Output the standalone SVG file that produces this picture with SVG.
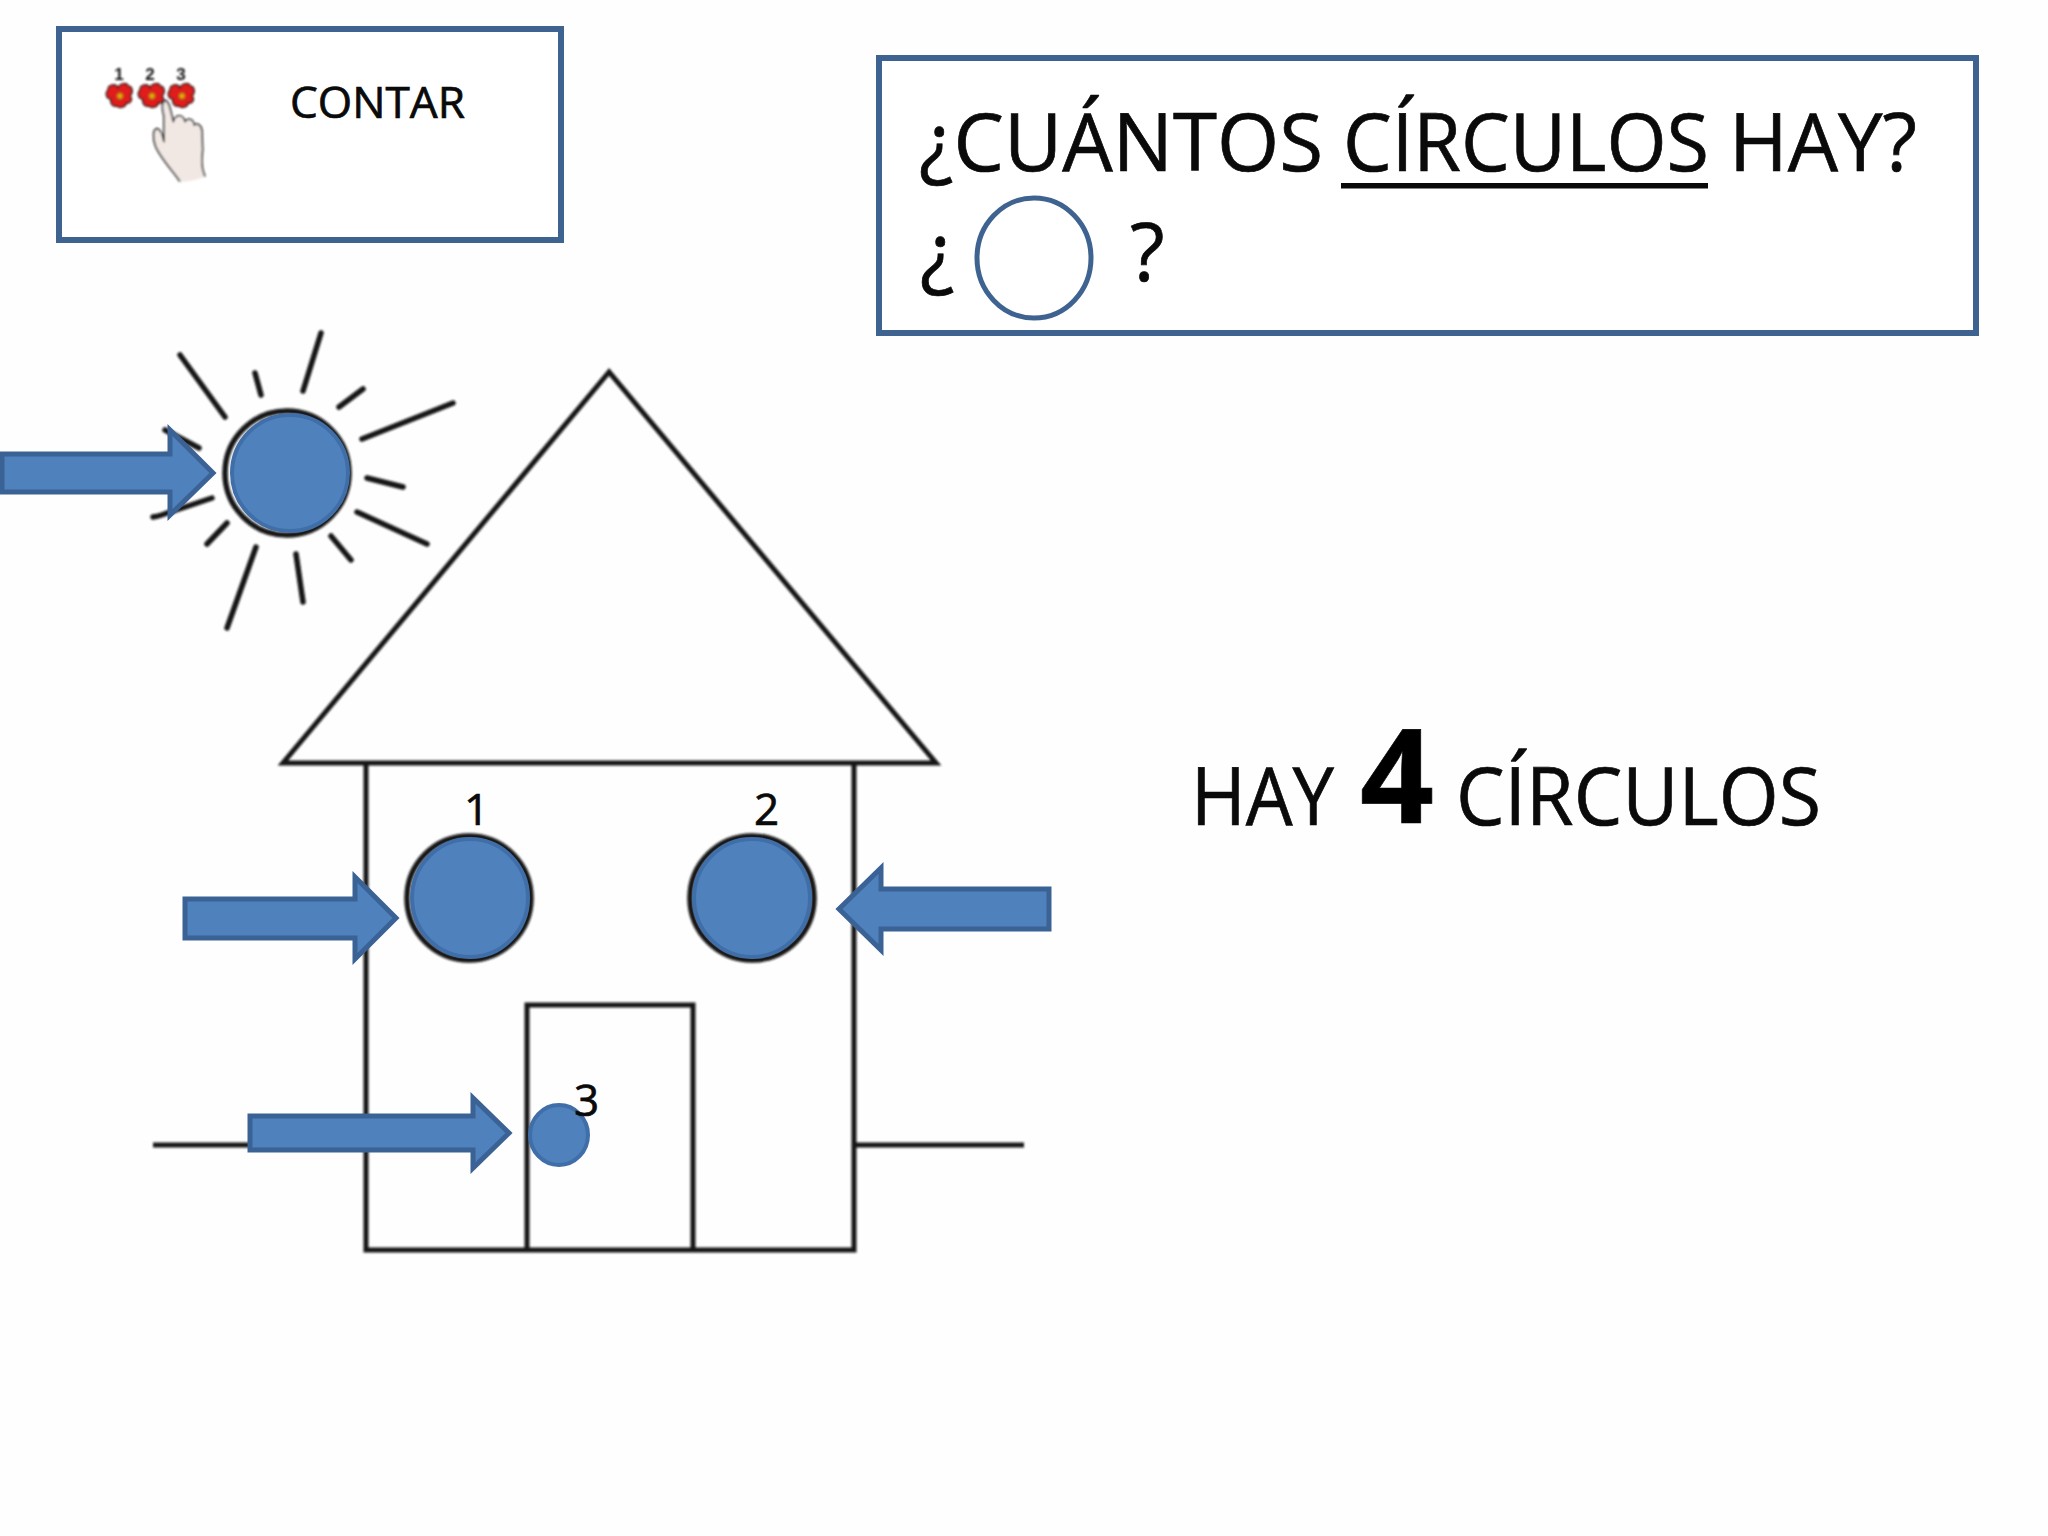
<svg xmlns="http://www.w3.org/2000/svg" width="2048" height="1536" viewBox="0 0 2048 1536">
<style>
.t{font-family:"Open Sans","Noto Sans","Liberation Sans",sans-serif;fill:#0a0a0a;stroke:#0a0a0a;stroke-width:.7}
.box{fill:#fff;stroke:#3f6391;stroke-width:6}
.arrow{fill:#4f81bd;stroke:#3a6295;stroke-width:5;stroke-linejoin:miter}
.blue{fill:#4f81bd;stroke:#3f6ea8;stroke-width:4}
.ring{fill:none;stroke:#141414;stroke-width:5.5}
.line{fill:none;stroke:#141414;stroke-width:5}
.ray{fill:none;stroke:#141414;stroke-width:5.5;stroke-linecap:round}
.n{font-family:"Liberation Sans",sans-serif;font-weight:700;font-size:17px;fill:#111;text-anchor:middle}
</style>
<defs>
<filter id="soft" x="-5%" y="-5%" width="110%" height="110%"><feGaussianBlur stdDeviation="0.8"/></filter>
<g id="flower">
<path d="M-2-8C-4-13-12-12-12-6C-15-3-14 3-9 3C-10 8-7 11-3 10C0 13 6 11 6 7C11 8 13 3 10 0C14-4 12-10 8-10C7-14 0-13-2-8Z" fill="#e01b1b" stroke="#2a1a1a" stroke-width="1.5" stroke-linejoin="round"/>
<circle r="3.2" fill="#f0a010" stroke="#8a5a10" stroke-width="1"/>
</g>
</defs>
<rect width="2048" height="1536" fill="#fefefe"/>

<g id="contar-box">
<rect class="box" x="59" y="29" width="502" height="211"/>
<g id="contar-icon" filter="url(#soft)">
<text class="n" x="119" y="80">1</text>
<text class="n" x="150" y="80">2</text>
<text class="n" x="181" y="80">3</text>
<use href="#flower" x="120" y="96"/>
<use href="#flower" x="152" y="96"/>
<use href="#flower" x="182" y="96"/>
<path transform="translate(90 50) scale(.3333)" d="M270 395C255 370 215 330 197 290C188 265 188 240 200 236C212 236 218 255 222 275L222 200C218 180 212 160 225 151C237 152 240 175 250 215C255 195 278 188 285 215C295 200 312 210 312 225C325 218 336 228 336 245L338 300C335 325 332 350 345 380C320 390 295 395 270 395Z" fill="#f1e8e4" stroke="none"/>
<path transform="translate(90 50) scale(.3333)" d="M270 395C255 370 215 330 197 290C188 265 188 240 200 236C212 236 218 255 222 275L222 200C218 180 212 160 225 151C237 152 240 175 250 215C255 195 278 188 285 215C295 200 312 210 312 225C325 218 336 228 336 245L338 300C335 325 332 350 345 380" fill="none" stroke="#262626" stroke-width="5" stroke-linejoin="round"/>
</g>
<text class="t" x="290" y="118" font-size="44" textLength="175" lengthAdjust="spacingAndGlyphs">CONTAR</text>
</g>

<g id="question-box">
<rect class="box" x="879" y="58" width="1097" height="275"/>
<text class="t" x="919" y="171" font-size="80" textLength="404" lengthAdjust="spacingAndGlyphs">¿CUÁNTOS</text>
<text class="t" x="1343" y="171" font-size="80" textLength="366" lengthAdjust="spacingAndGlyphs">CÍRCULOS</text>
<rect x="1341" y="183" width="367" height="5.5" fill="#0a0a0a"/>
<text class="t" x="1729" y="171" font-size="80" textLength="188" lengthAdjust="spacingAndGlyphs">HAY?</text>
<text class="t" x="920" y="281" font-size="80">¿</text>
<ellipse id="empty-circle" cx="1034" cy="258" rx="57" ry="60" fill="none" stroke="#3f6391" stroke-width="5"/>
<text class="t" x="1130" y="281" font-size="80">?</text>
</g>

<g id="scene" filter="url(#soft)">
<g id="house">
<path class="line" d="M609 372L283 763H936Z"/>
<path class="line" d="M366 763V1250H854V763"/>
<path class="line" d="M527 1250V1005H693V1250"/>
<path class="line" d="M153 1145H366M854 1145H1024"/>
</g>
<g id="sun">
<path class="ray" d="M180 355L225 417M255 373L261 395M321 333L303 391M363 389L339 407M453 403L362 439M367 478L403 487M357 512L427 544M331 536L351 560M296 554L303 602M256 547L227 628M227 523L207 544M212 498L170 512Q160 516 153 517M165 430L199 448"/>
<circle class="ring" cx="287" cy="473" r="62"/>
</g>
<ellipse class="ring" cx="469" cy="898" rx="62" ry="62"/>
<ellipse class="ring" cx="752" cy="898" rx="62" ry="62"/>
</g>

<g id="circles">
<ellipse id="circle-sun" class="blue" cx="290" cy="473" rx="58" ry="58"/>
<ellipse id="circle-1" class="blue" cx="470" cy="898" rx="58" ry="59"/>
<ellipse id="circle-2" class="blue" cx="752" cy="898" rx="58" ry="59"/>
<ellipse id="circle-3" class="blue" cx="559" cy="1135" rx="29" ry="30" stroke-width="2"/>
</g>

<g id="connectors">
<path class="arrow" d="M2 454H170V430L213 473L170 515V492H2Z"/>
<path class="arrow" d="M185 899H355V877L396 918L355 959V938H185Z"/>
<path class="arrow" d="M1049 889H881V868L839 909L881 950V929H1049Z"/>
<path class="arrow" d="M250 1116H473V1098L509 1133L473 1168V1150H250Z"/>
</g>

<g id="labels">
<text class="t" x="464" y="825" font-size="44">1</text>
<text class="t" x="754" y="825" font-size="44">2</text>
<text class="t" x="574" y="1116" font-size="44">3</text>
<text class="t" x="1191" y="825" font-size="80" textLength="143" lengthAdjust="spacingAndGlyphs">HAY</text>
<text class="t" x="1360" y="823" font-size="131" font-weight="700" textLength="74" lengthAdjust="spacingAndGlyphs" style="fill:#000">4</text>
<text class="t" x="1456" y="825" font-size="80" textLength="365" lengthAdjust="spacingAndGlyphs">CÍRCULOS</text>
</g>
</svg>
